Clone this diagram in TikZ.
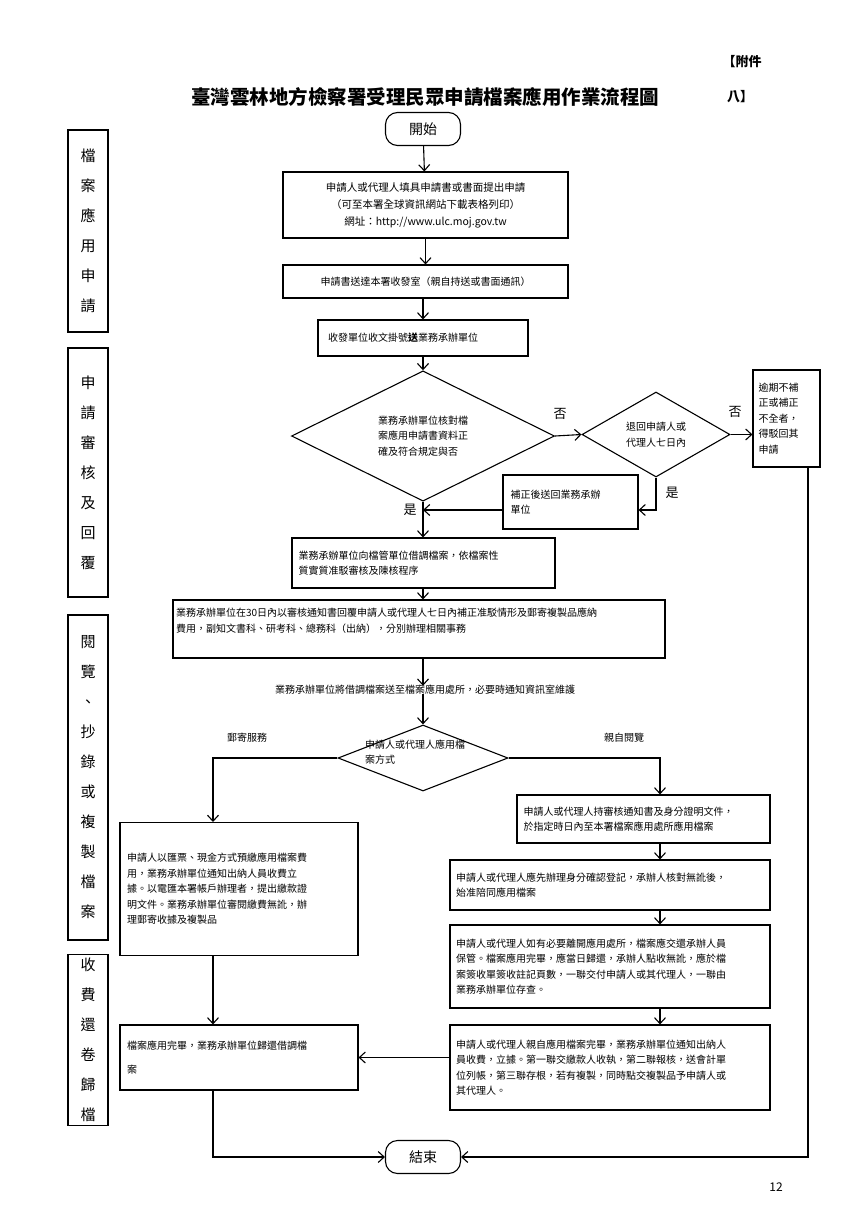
\documentclass[tikz,border=0pt]{standalone}
\usepackage{fontspec}
\setmainfont{Noto Sans CJK TC}
\usetikzlibrary{shapes.geometric,arrows.meta}
\begin{document}
\begin{tikzpicture}[x=1pt,y=-1pt,
  every node/.style={font=\fontsize{10}{15.5}\selectfont},
  box/.style={draw,line width=1.1pt,inner sep=4pt,align=left},
  side/.style={draw,line width=1.1pt,minimum width=40,align=center,font=\fontsize{15}{30}\selectfont},
  dia/.style={draw,line width=1.1pt,diamond,inner sep=0pt,align=left},
  term/.style={draw,line width=1.1pt,rounded corners=12pt,minimum width=75,minimum height=33,font=\fontsize{14}{16}\selectfont},
  arr/.style={line width=1.1pt,-{Straight Barb[length=6pt,width=11pt]}},
  lab/.style={font=\fontsize{13}{15}\selectfont}]
\useasboundingbox (0,0) rectangle (861,1217);
% header
\node[font=\fontsize{13}{15}\selectfont\bfseries] (fj) at (742,62) {【附件};
\node[font=\fontsize{13}{15}\selectfont\bfseries] (fj2) at (740,97) {八】};
\node[font=\fontsize{19.5}{22}\selectfont\bfseries] (title) at (425,97) {臺灣雲林地方檢察署受理民眾申請檔案應用作業流程圖};
% side labels
\node[side,minimum height=202] (s1) at (88,231) {檔\\案\\應\\用\\申\\請};
\node[side,minimum height=249] (s2) at (88,472.5) {申\\請\\審\\核\\及\\回\\覆};
\node[side,minimum height=325] (s3) at (88,777.5) {閱\\覽\\、\\抄\\錄\\或\\複\\製\\檔\\案};
\node[side,minimum height=170] (s4) at (88,1040) {收\\費\\還\\卷\\歸\\檔};
% flow
\node[term] (start) at (423,129) {開始};
\node[box,minimum width=285,minimum height=66,align=center,font=\fontsize{10.5}{17}\selectfont] (b1) at (425.5,205) {申請人或代理人填具申請書或書面提出申請\\（可至本署全球資訊網站下載表格列印）\\網址：http://www.ulc.moj.gov.tw};
\node[box,minimum width=285,minimum height=33,align=center] (b2) at (425.5,281.5) {申請書送達本署收發室（親自持送或書面通訊）};
\node[box,minimum width=210,minimum height=36,text width=190] (b3) at (423,338) {收發單位收文掛號\textbf{送}業務承辦單位};
\node[dia,minimum width=263,minimum height=125] (d1) at (423,436) {業務承辦單位核對檔\\案應用申請書資料正\\確及符合規定與否};
\node[dia,minimum width=148,minimum height=85] (d2) at (656,434.5) {退回申請人或\\代理人七日內};
\node[box,minimum width=67,minimum height=97,text width=56,inner sep=3pt] (nr) at (786.5,418.5) {逾期不補\\正或補正\\不全者，\\得駁回其\\申請};
\node[box,minimum width=135,minimum height=54,text width=120] (fix) at (570.5,502) {補正後送回業務承辦\\單位};
\node[box,minimum width=263,minimum height=50,text width=250] (b4) at (423.5,563) {業務承辦單位向檔管單位借調檔案，依檔案性\\ 質實質准駁審核及陳核程序};
\node[box,minimum width=492,minimum height=58,text width=486,inner sep=2pt] (b5) at (419,629) {業務承辦單位在30日內以審核通知書回覆申請人或代理人七日內補正准駁情形及郵寄複製品應納\\費用，副知文書科、研考科、總務科（出納），分別辦理相關事務\\[2pt]\mbox{}};
\node (t6) at (425,690) {業務承辦單位將借調檔案送至檔案應用處所，必要時通知資訊室維護};
\node[dia,minimum width=170,minimum height=66] (d3) at (423,758) {};
\node[align=left] (d3t) at (415,752) {申請人或代理人應用檔\\案方式};
\node[box,minimum width=238,minimum height=133,text width=224,anchor=north] (l1) at (239,822) {申請人以匯票、現金方式預繳應用檔案費\\用，業務承辦單位通知出納人員收費立\\據。以電匯本署帳戶辦理者，提出繳款證\\明文件。業務承辦單位審閱繳費無訛，辦\\理郵寄收據及複製品};
\node[box,minimum width=253,minimum height=48,text width=240] (r1) at (643.5,819) {申請人或代理人持審核通知書及身分證明文件，\\於指定時日內至本署檔案應用處所應用檔案};
\node[box,minimum width=320,minimum height=50,text width=308] (r2) at (610,885) {申請人或代理人應先辦理身分確認登記，承辦人核對無訛後，\\始准陪同應用檔案};
\node[box,minimum width=320,minimum height=83,text width=308] (r3) at (610,966.5) {申請人或代理人如有必要離開應用處所，檔案應交還承辦人員\\保管。檔案應用完畢，應當日歸還，承辦人點收無訛，應於檔\\案簽收單簽收註記頁數，一聯交付申請人或其代理人，一聯由\\業務承辦單位存查。};
\node[box,minimum width=320,minimum height=85,text width=308] (r4) at (610,1067.5) {申請人或代理人親自應用檔案完畢，業務承辦單位通知出納人\\員收費，立據。第一聯交繳款人收執，第二聯報核，送會計單\\位列帳，第三聯存根，若有複製，同時點交複製品予申請人或\\其代理人。};
\node[box,minimum width=238,minimum height=65,text width=224,font=\fontsize{10}{24}\selectfont] (l2) at (239,1057.5) {檔案應用完畢，業務承辦單位歸還借調檔\\案};
\node[term] (end) at (423,1157) {結束};
\node[font=\fontsize{12}{14}\selectfont] (pg) at (776,1187) {12};
% labels
\node[lab] (no1) at (560,414) {否};
\node[lab] (no2) at (735,412) {否};
\node[lab] (yes2) at (672,493) {是};
\node[lab] (yes1) at (410,510) {是};
\node (mail) at (247,738) {郵寄服務};
\node (self) at (624,738) {親自閱覽};
% coordinates
\coordinate (rx) at (660,0);
\coordinate (lx) at (213,0);
\coordinate (fy) at (0,510);
\coordinate (nx) at (808,0);
% connectors
\draw[arr] (start) -- (b1);
\draw[arr] (b1) -- (b2);
\draw[arr] (b2.south -| b3) -- (b3);
\draw[arr] (b3) -- (d1);
\draw[arr] (d1.east) -- (d2.west);
\draw[arr] (d2.east) -- (nr.west |- d2.east);
\draw[arr] (d2.south) |- (fix.east |- fy);
\draw[arr] (fix.west |- fy) -- (d1.south |- fy);
\draw[arr] (d1.south) -- (b4.north -| d1.south);
\draw[arr] (b4.south -| d1.south) -- (b5.north -| d1.south);
\draw[arr] (b5.south -| d1.south) -- ([yshift=-4pt]t6.north -| d1.south);
\draw[arr] ([yshift=4pt]t6.south -| d3) -- (d3.north);
\draw[arr] (d3.west) -| (l1.north -| lx);
\draw[arr] (d3.east) -| (r1.north -| rx);
\draw[arr] (r1.south -| rx) -- (r2.north -| rx);
\draw[arr] (r2.south -| rx) -- (r3.north -| rx);
\draw[arr] (r3.south -| rx) -- (r4.north -| rx);
\draw[arr] (r4.west |- l2.east) -- (l2.east);
\draw[arr] (l1.south -| lx) -- (l2.north -| lx);
\draw[arr] (l2.south -| lx) |- (end.west);
\draw[arr] (nr.south -| nx) |- (end.east);
\end{tikzpicture}
\end{document}
